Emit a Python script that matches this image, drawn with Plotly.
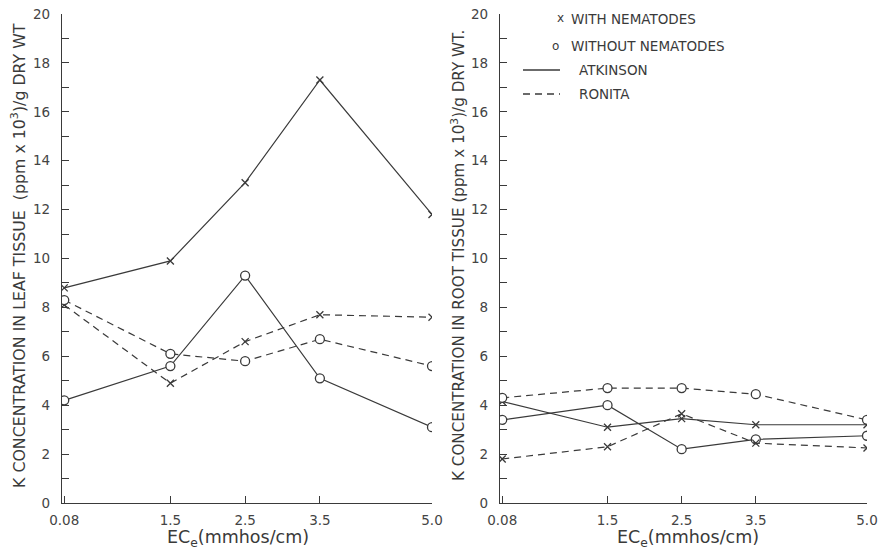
import plotly.graph_objects as go

# ---------------- data ----------------
ec = [0.08, 1.5, 2.5, 3.5, 5.0]
ec_ticktext = ["0.08", "1.5", "2.5", "3.5", "5.0"]

leaf_atkinson_with = [8.8, 9.9, 13.1, 17.3, 11.8]
leaf_atkinson_without = [4.2, 5.6, 9.3, 5.1, 3.1]
leaf_ronita_with = [8.1, 4.9, 6.6, 7.7, 7.6]
leaf_ronita_without = [8.3, 6.1, 5.8, 6.7, 5.6]

root_atkinson_with = [4.15, 3.1, 3.45, 3.2, 3.2]
root_atkinson_without = [3.4, 4.0, 2.2, 2.6, 2.75]
root_ronita_with = [1.8, 2.3, 3.65, 2.45, 2.25]
root_ronita_without = [4.3, 4.7, 4.7, 4.45, 3.4]

y_tickvals = [0, 2, 4, 6, 8, 10, 12, 14, 16, 18, 20]
y_ticktext = ["0", "2", "4", "6", "8", "10", "12", "14", "16", "18", "20"]

legend_labels = ["WITH NEMATODES", "WITHOUT NEMATODES", "ATKINSON", "RONITA"]
left_ytitle = "K CONCENTRATION IN LEAF TISSUE  (ppm x 10<sup>3</sup>)/g DRY WT"
right_ytitle = "K CONCENTRATION IN ROOT TISSUE (ppm x 10<sup>3</sup>)/g DRY WT."
xtitle = "EC<sub>e</sub>(mmhos/cm)"

# ---------------- style ----------------
INK = "#3a3a3a"
FONT = "DejaVu Sans"
W, H = 884, 555
DASH = "7px,5px"


def px_x(p):
    return p / W


def px_y(p):
    return 1 - p / H


fig = go.Figure()

series = [
    (leaf_atkinson_with, root_atkinson_with, "solid", "x"),
    (leaf_atkinson_without, root_atkinson_without, "solid", "o"),
    (leaf_ronita_with, root_ronita_with, DASH, "x"),
    (leaf_ronita_without, root_ronita_without, DASH, "o"),
]

for leaf, root, dash, mk in series:
    for vals, xa, ya in [(leaf, "x", "y"), (root, "x2", "y2")]:
        if mk == "x":
            marker = dict(symbol="x-thin-open", size=7, line=dict(color=INK, width=1.3), color=INK)
        else:
            marker = dict(symbol="circle", size=9, color="white", line=dict(color=INK, width=1.3))
        fig.add_trace(go.Scatter(
            x=ec, y=vals, xaxis=xa, yaxis=ya, mode="lines+markers",
            line=dict(color=INK, width=1.2, dash=dash),
            marker=marker, showlegend=False, hoverinfo="skip",
        ))

ydom = [px_y(503), px_y(14)]
xdom1 = [px_x(62), px_x(432)]
xdom2 = [px_x(500), px_x(867)]

axis_common = dict(
    showgrid=False, zeroline=False, showline=True, linecolor=INK, linewidth=1.3,
    ticks="inside", ticklen=7, tickwidth=1.2, tickcolor=INK,
    tickfont=dict(family=FONT, size=13.5, color="#444"), automargin=False,
)

xaxis_cfg = dict(axis_common, range=[0.05, 5.0], tickvals=ec, ticktext=ec_ticktext, ticklabelstandoff=5)
yaxis_cfg = dict(axis_common, range=[0, 20], tickvals=y_tickvals, ticktext=y_ticktext, ticklabelstandoff=8,
                 minor=dict(dtick=1, tick0=0, ticks="inside", ticklen=7, tickwidth=1.2, tickcolor=INK,
                            showgrid=False))

fig.update_layout(
    width=W, height=H,
    margin=dict(l=0, r=0, t=0, b=0),
    paper_bgcolor="white", plot_bgcolor="white",
    xaxis=dict(xaxis_cfg, domain=xdom1, anchor="y"),
    yaxis=dict(yaxis_cfg, domain=ydom, anchor="x"),
    xaxis2=dict(xaxis_cfg, domain=xdom2, anchor="y2"),
    yaxis2=dict(yaxis_cfg, domain=ydom, anchor="x2"),
    showlegend=False,
)

ann = []
# y titles
ann.append(dict(text=left_ytitle, x=px_x(19), y=px_y(256), xref="paper", yref="paper",
                textangle=-90, showarrow=False, xanchor="center", yanchor="middle",
                font=dict(family=FONT, size=15.8, color=INK)))
ann.append(dict(text=right_ytitle, x=px_x(458), y=px_y(256), xref="paper", yref="paper",
                textangle=-90, showarrow=False, xanchor="center", yanchor="middle",
                font=dict(family=FONT, size=15.2, color=INK)))
# x titles
for cx in [238, 688]:
    ann.append(dict(text=xtitle, x=px_x(cx), y=px_y(538), xref="paper", yref="paper",
                    showarrow=False, xanchor="center", yanchor="middle",
                    font=dict(family=FONT, size=17.5, color=INK)))

# legend (manual)
ann.append(dict(text="x", x=px_x(560), y=px_y(18), xref="paper", yref="paper", showarrow=False,
                xanchor="center", yanchor="middle", font=dict(family=FONT, size=12, color=INK)))
ann.append(dict(text="o", x=px_x(555), y=px_y(46), xref="paper", yref="paper", showarrow=False,
                xanchor="center", yanchor="middle", font=dict(family=FONT, size=12, color=INK)))
for label, tx, ty in [(legend_labels[0], 569, 19), (legend_labels[1], 569, 46),
                      (legend_labels[2], 577, 70), (legend_labels[3], 577, 94)]:
    ann.append(dict(text=label, x=px_x(tx), y=px_y(ty), xref="paper", yref="paper", showarrow=False,
                    xanchor="left", yanchor="middle", font=dict(family=FONT, size=13.5, color=INK)))
fig.update_layout(annotations=ann)

fig.add_shape(type="line", xref="paper", yref="paper", x0=px_x(523), x1=px_x(560),
              y0=px_y(70), y1=px_y(70), line=dict(color=INK, width=1.3))
fig.add_shape(type="line", xref="paper", yref="paper", x0=px_x(523), x1=px_x(560),
              y0=px_y(94), y1=px_y(94), line=dict(color=INK, width=1.3, dash="7px,5px"))

fig.write_html(
    "out.html",
    config={"displayModeBar": False},
    post_script="document.body.style.margin='0';document.body.style.overflow='hidden';",
)
